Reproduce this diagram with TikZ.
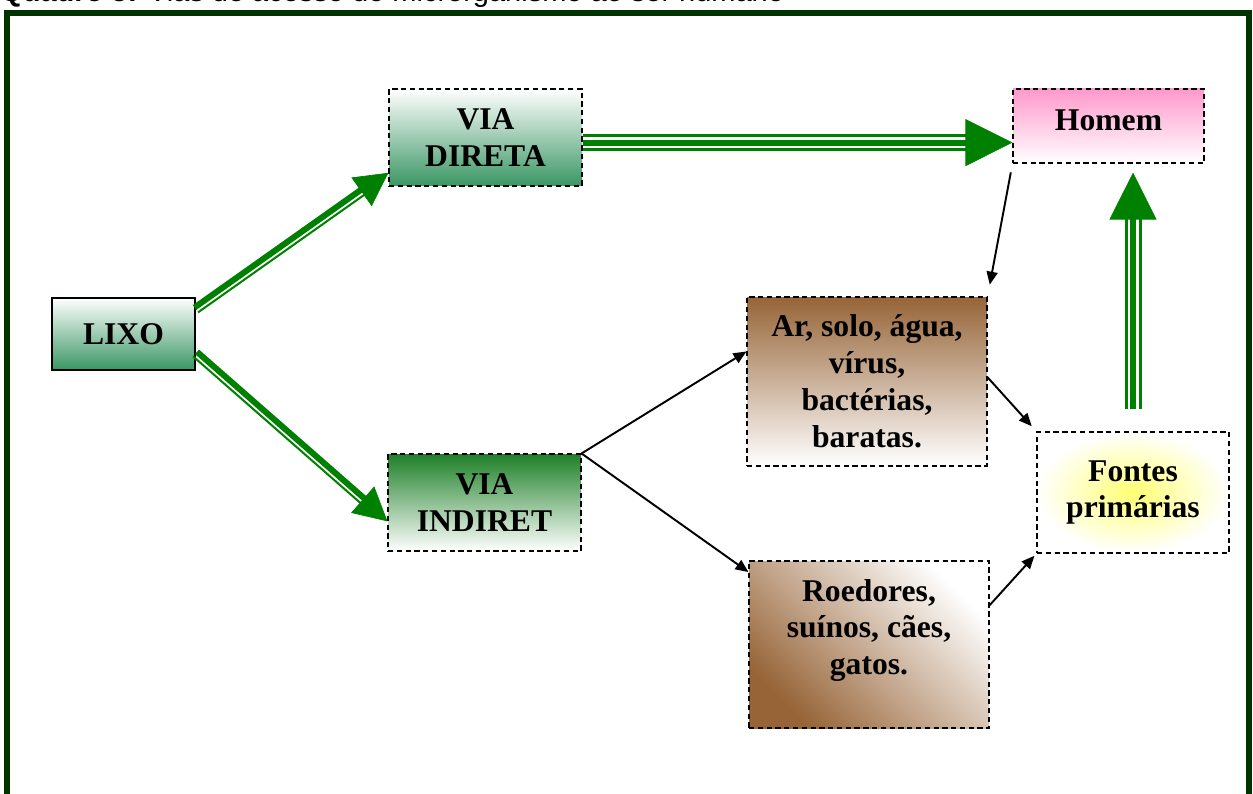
\documentclass[tikz,border=0pt]{standalone}
\usepackage{fontspec}
\setmainfont{Liberation Serif}
\newfontfamily\capfont{Liberation Sans}
\usetikzlibrary{arrows.meta, positioning, calc}

\definecolor{framegreen}{RGB}{0,51,0}
\definecolor{arrowgreen}{RGB}{0,128,0}
\definecolor{boxgreen}{RGB}{58,150,100}
\definecolor{darkboxgreen}{RGB}{30,128,40}
\definecolor{earthbrown}{RGB}{150,100,55}
\definecolor{pinkhomem}{RGB}{255,153,204}

% thick + thin green arrow
\newcommand{\thickthin}[2]{%
  \draw[arrowgreen, line width=0.12cm, shorten >=0.6cm] ($(#1)!0.04cm!90:(#2)$) -- ($(#2)!0.04cm!-90:(#1)$);
  \draw[arrowgreen, line width=0.04cm, shorten >=0.6cm] ($(#1)!0.08cm!-90:(#2)$) -- ($(#2)!0.08cm!90:(#1)$);
  \draw[arrowgreen, line width=0.4pt, -{Triangle[length=0.66cm,width=0.7cm]}] (#1) -- (#2);}

% thin + thick + thin green arrow
\newcommand{\triplearrow}[2]{%
  \draw[arrowgreen, line width=0.34cm, shorten >=0.9cm] (#1) -- (#2);
  \draw[white, line width=0.22cm, shorten >=0.9cm] (#1) -- (#2);
  \draw[arrowgreen, line width=0.12cm, shorten >=0.9cm] (#1) -- (#2);
  \draw[arrowgreen, line width=0.4pt, -{Triangle[length=0.94cm,width=0.94cm]}] (#1) -- (#2);}

\begin{document}
\begin{tikzpicture}[
    base/.style={rectangle, align=center, font=\fontsize{18}{21}\selectfont\bfseries, inner sep=2pt},
    solidbox/.style={base, draw, line width=0.8pt},
    dashbox/.style={base, draw, line width=0.6pt, dash pattern=on 3pt off 2pt},
    link/.style={-{Triangle[length=0.26cm,width=0.22cm]}, line width=1.1pt},
    frame/.style={draw=framegreen, line width=0.12cm}
]

\useasboundingbox (0,0) rectangle (25.06,-15.88);
\clip (0,0) rectangle (25.06,-15.88);

% caption, cut by the top edge
\node[anchor=base west, inner sep=0, font=\capfont\fontsize{16.5}{18}\selectfont] (caption) at (0,-0.04)
    {\textbf{Quadro 5:} Vias de acesso do microrganismo ao ser humano};
\draw[frame] (0.14,-17) |- (24.98,-0.26) -- (24.98,-17);

\node[solidbox, top color=white, bottom color=boxgreen, minimum width=2.86cm, minimum height=1.44cm] (lixo) at (2.47,-6.68) {LIXO};
\node[dashbox, top color=white, bottom color=boxgreen, minimum width=3.86cm, minimum height=1.94cm] (vdireta) at (9.71,-2.75) {VIA\\DIRETA};
\node[dashbox, top color=darkboxgreen, bottom color=white, minimum width=3.86cm, minimum height=1.94cm] (vindireta) at (9.69,-10.05) {VIA\\INDIRET};
\node[dashbox, top color=earthbrown, bottom color=white, minimum width=4.8cm, minimum height=3.38cm] (meio) at (17.34,-7.63) {Ar, solo, água,\\vírus,\\bactérias,\\baratas.};
\node[dashbox, top color=white, bottom color=earthbrown, shading angle=-45, minimum width=4.8cm, minimum height=3.34cm] (animais) at (17.38,-12.89) {};
\node[base] (animaistxt) at ($(animais)+(0,0.28)$) {Roedores,\\suínos, cães,\\gatos.};
\node[dashbox, top color=pinkhomem, bottom color=white, minimum width=3.82cm, minimum height=1.48cm, text depth=0.24cm] (homem) at (22.17,-2.52) {Homem};
\node[dashbox, inner color=yellow!55, outer color=white, minimum width=3.84cm, minimum height=2.42cm] (fontes) at (22.66,-9.85) {Fontes\\primárias};

% green arrows
\thickthin{lixo.19}{vdireta.-160}
\thickthin{lixo.-15}{vindireta.191}
\triplearrow{vdireta.-3}{homem.west |- vdireta.-3}
\coordinate (fbase) at ($(fontes.north)+(0,0.44)$);
\coordinate (htip) at ($(fbase |- homem.south)+(0,-0.18)$);
\triplearrow{fbase}{htip}

% black arrows
\draw[link, shorten <=0.18cm, shorten >=0.24cm] (homem.south west) -- (meio.north east);
\draw[link] (vindireta.north east) -- (meio.166);
\draw[link] (vindireta.north east) -- (animais.149);
\draw[link, shorten >=0.14cm] (meio.2) -- (fontes.north west);
\draw[link, shorten >=0.06cm] (animais.18) -- (fontes.south west);

\end{tikzpicture}
\end{document}
